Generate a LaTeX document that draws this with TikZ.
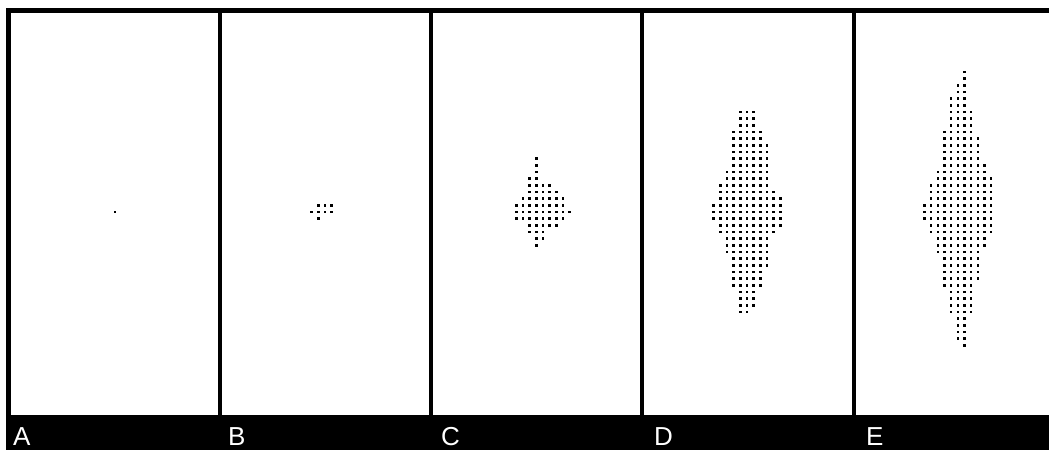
\documentclass[tikz,border=0pt]{standalone}
\usepackage{fontspec}
\setmainfont{Liberation Sans}
\usepackage{tikz}
\usetikzlibrary{positioning}

% one row of cells: seed x, list of row/first/last
\newcommand{\cellrows}[2]{%
  \foreach \r/\a/\b in {#2}{
    \foreach \c in {\a,...,\b}
      \fill ({#1+(\c)*20/3-1.3},{212+(\r)*20/3-1.3}) rectangle ++(2.6,2.6);
  }}

\begin{document}
\begin{tikzpicture}[
  x=1pt, y=-1pt,
  frame/.style={line width=5pt, line join=miter},
  divider/.style={line width=4pt},
  tag/.style={anchor=base west, inner sep=0pt, text=white, font=\fontsize{26}{26}\selectfont}
]
  \useasboundingbox (0,0) rectangle (1049,450);
  \fill[white] (0,0) rectangle (1049,450);

  % frame and bar
  \draw[frame] (8.5,415) -- (8.5,10) -- (1049,10);
  \fill (6,415) rectangle (1049,450);
  \foreach \x in {220,431.2,642.4,853.6}
    \draw[divider] (\x,10) -- (\x,415);

  \node[tag] (lblA) at (13,445) {A};
  \node[tag] (lblB) at (228,445) {B};
  \node[tag] (lblC) at (441,445) {C};
  \node[tag] (lblD) at (654,445) {D};
  \node[tag] (lblE) at (866,445) {E};

  % A
  \cellrows{115}{0/0/0}
  % B
  \cellrows{325}{-1/-1/1, 0/-2/1, 1/-1/-1}
  % C
  \cellrows{536.4}{-8/0/0, -7/0/0, -6/0/0, -5/-1/0, -4/-1/2, -3/-1/3, -2/-2/4,
    -1/-3/4, 0/-3/5, 1/-3/4, 2/-1/3, 3/-1/1, 4/0/1, 5/0/0}
  % D
  \cellrows{747.1}{-15/-1/1, -14/-1/1, -13/-1/1, -12/-2/2, -11/-2/2,
    -10/-2/3, -9/-2/3, -8/-2/3, -7/-2/3, -6/-3/3, -5/-3/3, -4/-4/3,
    -3/-4/4, -2/-4/5, -1/-5/5, 0/-5/5, 1/-5/5, 2/-4/5, 3/-4/4,
    4/-3/3, 5/-3/3, 6/-3/3, 7/-2/3, 8/-2/3, 9/-2/2, 10/-2/2, 11/-2/2,
    12/-1/1, 13/-1/1, 14/-1/1, 15/-1/0}
  % E
  \cellrows{957.8}{-21/1/1, -20/1/1, -19/0/1, -18/0/1, -17/-1/1, -16/-1/1,
    -15/-1/2, -14/-1/2, -13/-1/2, -12/-2/2, -11/-2/3, -10/-2/3, -9/-2/3,
    -8/-2/3, -7/-2/4, -6/-3/4, -5/-3/5, -4/-4/5, -3/-4/5, -2/-4/5,
    -1/-5/5, 0/-5/5, 1/-5/5, 2/-4/5, 3/-4/5, 4/-3/4, 5/-3/4, 6/-3/3,
    7/-2/3, 8/-2/3, 9/-2/3, 10/-2/3, 11/-2/2, 12/-1/2, 13/-1/2, 14/-1/2,
    15/-1/2, 16/0/1, 17/0/1, 18/0/1, 19/0/1, 20/1/1}
\end{tikzpicture}
\end{document}
